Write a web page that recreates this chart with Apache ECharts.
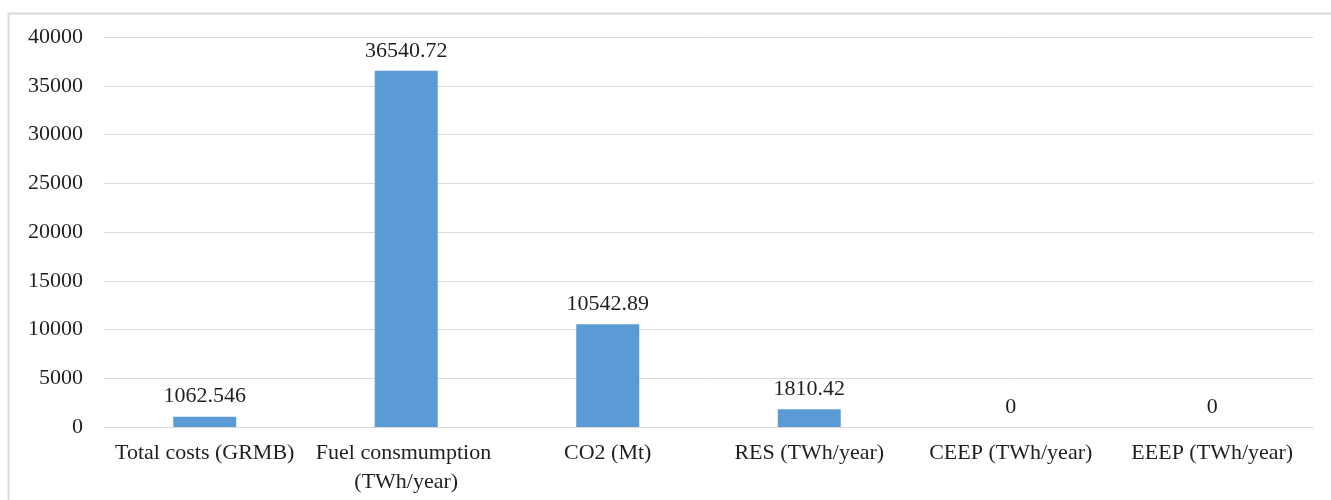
<!DOCTYPE html>
<html>
<head>
<meta charset="utf-8">
<script src="https://cdn.jsdelivr.net/npm/echarts@6/dist/echarts.min.js"></script>
<style>
  html, body { margin: 0; padding: 0; background: #fff; }
  #chart { width: 1331px; height: 500px; }
</style>
</head>
<body>
<div id="chart"></div>
<script>
// Energy system indicators
const categories = [
  'Total costs (GRMB)',
  'Fuel consmumption (TWh/year)',
  'CO2 (Mt)',
  'RES (TWh/year)',
  'CEEP (TWh/year)',
  'EEEP (TWh/year)'
];
const values = [1062.546, 36540.72, 10542.89, 1810.42, 0, 0];
const yTicks = { min: 0, max: 40000, interval: 5000 };

const serif = '"Liberation Serif", "DejaVu Serif", serif';
const chart = echarts.init(document.getElementById('chart'));

chart.setOption({
  animation: false,
  backgroundColor: '#ffffff',
  graphic: [{
    type: 'rect',
    left: 6, top: 11,
    shape: { width: 1340, height: 520 },
    style: { fill: 'none', stroke: '#d9d9d9', lineWidth: 2 },
    silent: true,
    z: -10
  }],
  grid: { left: 104, right: 18, top: 37, bottom: 73, containLabel: false },
  xAxis: {
    type: 'category',
    data: categories,
    axisLine: { show: true, lineStyle: { color: '#d9d9d9', width: 1 } },
    axisTick: { show: false },
    axisLabel: {
      interval: 0,
      color: '#1f1f1f',
      fontFamily: serif,
      fontSize: 22,
      margin: 12,
      lineHeight: 29,
      width: 200,
      overflow: 'break'
    }
  },
  yAxis: {
    type: 'value',
    min: yTicks.min,
    max: yTicks.max,
    interval: yTicks.interval,
    axisLine: { show: false },
    axisTick: { show: false },
    splitLine: { lineStyle: { color: '#d9d9d9', width: 1 } },
    axisLabel: {
      color: '#1f1f1f',
      fontFamily: serif,
      fontSize: 22,
      margin: 21,
      formatter: v => String(v)
    }
  },
  series: [{
    type: 'bar',
    data: values,
    barWidth: 63,
    itemStyle: { color: '#5b9bd5' },
    label: {
      show: true,
      position: 'top',
      distance: 9,
      color: '#1f1f1f',
      fontFamily: serif,
      fontSize: 22,
      formatter: p => String(p.value)
    }
  }]
});
</script>
</body>
</html>
